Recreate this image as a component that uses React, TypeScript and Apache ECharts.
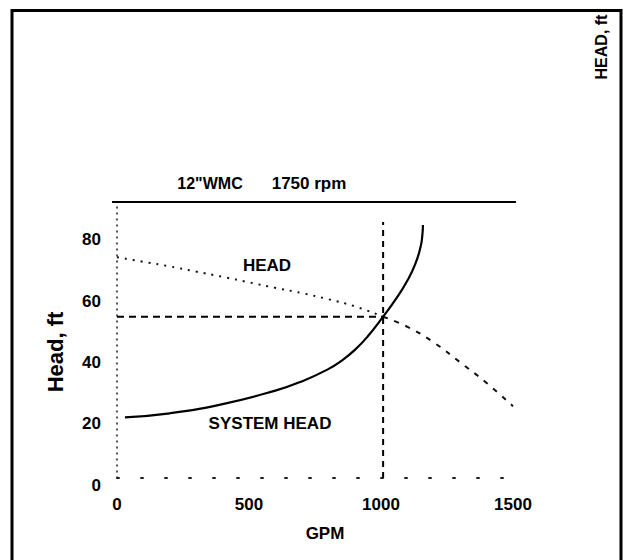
import React, { useEffect, useRef } from "react";
import * as echarts from "echarts";

// ---- data ----
const headGpm = [0, 100, 200, 300, 400, 500, 600, 700, 800, 900, 1008, 1100, 1200, 1300, 1400, 1500];
const headFt = [72, 70.5, 69, 67.3, 65.6, 63.8, 62, 60.3, 58.3, 56, 52.6, 49.3, 44.2, 37.7, 31, 23.4];

const systemGpm = [30, 200, 400, 600, 700, 800, 850, 900, 950, 1008, 1060, 1100, 1130, 1150, 1156, 1159];
const systemFt = [19.8, 21.1, 24.1, 28.5, 31.5, 35.5, 38.2, 41.7, 46.2, 52.6, 58.8, 64.4, 69.8, 75.4, 78.6, 82.5];

const operatingGpm = 1008;
const operatingHead = 52.6;
const verticalTop = 83.5;

const xTicks = { min: 0, max: 1500, interval: 500 };
const yTicks = { min: 0, max: 90, interval: 20 };

const titleLeft = '12"WMC';
const titleRight = "1750 rpm";
const yTitle = "Head, ft";
const xTitle = "GPM";
const cornerTitle = "HEAD, ft";
const headLabel = "HEAD";
const systemLabel = "SYSTEM HEAD";

const FONT = "'Liberation Sans', Arial, Helvetica, sans-serif";

export default function App() {
  const ref = useRef<HTMLDivElement>(null);

  useEffect(() => {
    if (!ref.current) return;
    const chart = echarts.init(ref.current, undefined, { renderer: "svg" });

    const headPairs = headGpm.map((g, i) => [g, headFt[i]]);
    const headDotted = headPairs.filter((p) => p[0] <= operatingGpm);
    const headDashed = headPairs.filter((p) => p[0] >= operatingGpm);
    const systemPairs = systemGpm.map((g, i) => [g, systemFt[i]]);

    const txt = (text: string, x: number, y: number, size: number, rot = 0) => ({
      type: "text",
      x,
      y,
      rotation: rot,
      style: {
        text,
        fontFamily: FONT,
        fontWeight: "bold",
        fontSize: size,
        fill: "#000",
        textAlign: "center",
        textVerticalAlign: "middle",
      },
    });

    chart.setOption({
      animation: false,
      backgroundColor: "#fff",
      grid: { left: 117, right: 110, top: 202, bottom: 82, containLabel: false },
      xAxis: {
        type: "value",
        min: xTicks.min,
        max: xTicks.max,
        interval: xTicks.interval,
        axisLine: { show: true, lineStyle: { color: "#222", width: 2, type: [2, 22] } },
        axisTick: { show: false },
        splitLine: { show: false },
        axisLabel: {
          margin: 18,
          fontSize: 17,
          fontWeight: "bold",
          fontFamily: FONT,
          color: "#000",
          formatter: (v: number) => String(v),
        },
      },
      yAxis: {
        type: "value",
        min: yTicks.min,
        max: yTicks.max,
        interval: yTicks.interval,
        axisLine: { show: true, lineStyle: { color: "#222", width: 1.5, type: [1, 5] } },
        axisTick: { show: false },
        splitLine: { show: false },
        axisLabel: {
          showMaxLabel: false,
          margin: 16,
          verticalAlign: "top",
          lineHeight: 14,
          fontSize: 17,
          fontWeight: "bold",
          fontFamily: FONT,
          color: "#000",
          formatter: (v: number) => String(v),
        },
      },
      graphic: [
        {
          type: "polyline",
          shape: { points: [[12, 562], [12, 10.5], [621, 10.5], [621, 562]] },
          style: { stroke: "#000", lineWidth: 3, fill: null },
        },
        {
          type: "line",
          shape: { x1: 112, y1: 202, x2: 516, y2: 202 },
          style: { stroke: "#000", lineWidth: 2 },
        },
        txt(titleLeft, 210, 183, 16),
        txt(titleRight, 309, 183, 17),
        txt(yTitle, 55, 352, 22, Math.PI / 2),
        txt(xTitle, 325, 533, 17),
        txt(cornerTitle, 601, 47, 16, Math.PI / 2),
        txt(headLabel, 267, 265, 17),
        txt(systemLabel, 270, 423, 17),
      ],
      series: [
        {
          type: "line",
          data: headDotted,
          smooth: true,
          symbol: "none",
          lineStyle: { color: "#111", width: 2, type: [2, 6] },
        },
        {
          type: "line",
          data: headDashed,
          smooth: true,
          symbol: "none",
          lineStyle: { color: "#111", width: 2, type: [5, 7] },
        },
        {
          type: "line",
          data: systemPairs,
          smooth: true,
          symbol: "none",
          lineStyle: { color: "#000", width: 2.2, type: "solid" },
        },
        {
          type: "line",
          data: [[0, operatingHead], [operatingGpm, operatingHead]],
          symbol: "none",
          lineStyle: { color: "#000", width: 2, type: [7, 5] },
        },
        {
          type: "line",
          data: [[operatingGpm, 0], [operatingGpm, verticalTop]],
          symbol: "none",
          lineStyle: { color: "#000", width: 2, type: [6, 5] },
        },
      ],
    });

    return () => chart.dispose();
  }, []);

  return (
    <div
      ref={ref}
      style={{ position: "fixed", left: 0, top: 0, width: 623, height: 560, background: "#fff" }}
    />
  );
}
